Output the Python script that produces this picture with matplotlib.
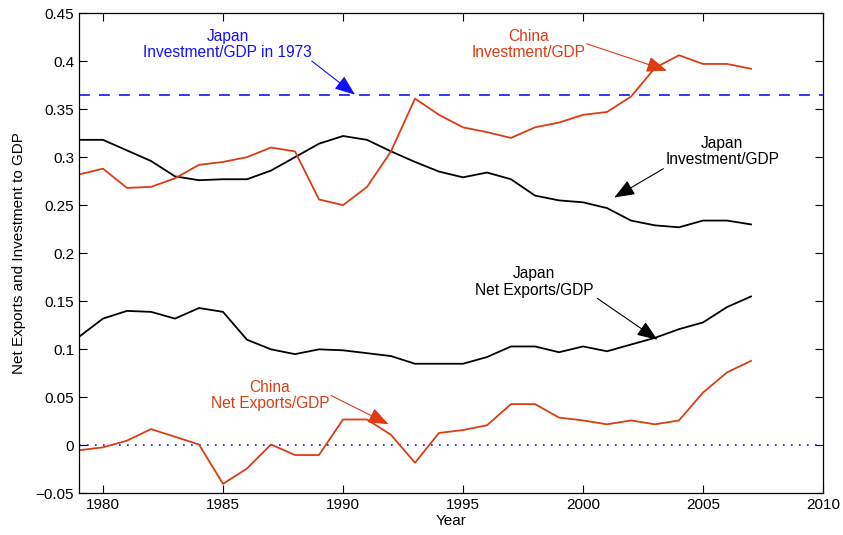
import matplotlib
matplotlib.use('Agg')
import matplotlib.pyplot as plt
import numpy as np

plt.rcParams['font.family'] = ['Liberation Sans', 'DejaVu Sans']

years = np.arange(1979, 2008)

# investment / GDP
japan_inv = [0.318, 0.318, 0.307, 0.296, 0.280, 0.276, 0.277, 0.277, 0.286, 0.300,
             0.314, 0.322, 0.318, 0.306, 0.295, 0.285, 0.279, 0.284, 0.277, 0.260,
             0.255, 0.253, 0.247, 0.234, 0.229, 0.227, 0.234, 0.234, 0.230]
china_inv = [0.282, 0.288, 0.268, 0.269, 0.278, 0.292, 0.295, 0.300, 0.310, 0.306,
             0.256, 0.250, 0.269, 0.306, 0.361, 0.344, 0.331, 0.326, 0.320, 0.331,
             0.336, 0.344, 0.347, 0.363, 0.393, 0.406, 0.397, 0.397, 0.392]

# net exports / GDP
japan_nx = [0.113, 0.132, 0.140, 0.139, 0.132, 0.143, 0.139, 0.110, 0.100, 0.095,
            0.100, 0.099, 0.096, 0.093, 0.085, 0.085, 0.085, 0.092, 0.103, 0.103,
            0.097, 0.103, 0.098, 0.105, 0.112, 0.121, 0.128, 0.144, 0.155]
china_nx = [-0.005, -0.002, 0.005, 0.017, 0.009, 0.001, -0.040, -0.024, 0.001, -0.010,
            -0.010, 0.027, 0.027, 0.011, -0.018, 0.013, 0.016, 0.021, 0.043, 0.043,
            0.029, 0.026, 0.022, 0.026, 0.022, 0.026, 0.055, 0.076, 0.088]

japan_inv_1973 = 0.365

RED = '#dc3c14'
BLUE = '#1010ff'

fig = plt.figure(figsize=(8.43, 5.35), dpi=100)
ax = fig.add_axes([0.0937, 0.0776, 0.8826, 0.8981])

ax.axhline(japan_inv_1973, color=BLUE, lw=1.2, dashes=(6.5, 5.5))
ax.axhline(0, color=BLUE, lw=1.2, linestyle=(0, (1, 3.8)))

ax.plot(years, japan_inv, color='black', lw=1.3)
ax.plot(years, china_inv, color=RED, lw=1.3)
ax.plot(years, japan_nx, color='black', lw=1.3)
ax.plot(years, china_nx, color=RED, lw=1.3)

ax.set_xlim(1979, 2010)
ax.set_ylim(-0.05, 0.45)
ax.set_xticks(np.arange(1980, 2011, 5))
ax.set_yticks(np.arange(-0.05, 0.451, 0.05))
ax.set_yticklabels(['\u22120.05', '0', '0.05', '0.1', '0.15', '0.2', '0.25',
                    '0.3', '0.35', '0.4', '0.45'])
ax.tick_params(direction='in', length=6, top=True, right=True, labelsize=11,
               width=0.8)
for s in ax.spines.values():
    s.set_linewidth(0.9)

ax.set_xlabel('Year', fontsize=11, labelpad=1)
ax.set_ylabel('Net Exports and Investment to GDP', fontsize=11, labelpad=7)


def note(text, xy, xytext, tx, ty, color):
    ax.annotate('', xy=xy, xytext=xytext,
                arrowprops=dict(arrowstyle='-|>,head_length=0.9,head_width=0.35',
                                color=color, lw=0.8, mutation_scale=14,
                                shrinkA=0, shrinkB=0))
    ax.text(tx, ty, text, color=color, ha='center', va='center',
            fontsize=11.2, linespacing=1.1)


note('Japan\nInvestment/GDP in 1973', (1990.5, 0.365), (1988.7, 0.400),
     1985.2, 0.417, BLUE)
note('China\nInvestment/GDP', (2003.5, 0.390), (2000.15, 0.418),
     1997.75, 0.417, RED)
note('Japan\nInvestment/GDP', (2001.3, 0.258), (2003.35, 0.288),
     2005.8, 0.306, 'black')
note('Japan\nNet Exports/GDP', (2003.1, 0.110), (2000.6, 0.153),
     1997.97, 0.170, 'black')
note('China\nNet Exports/GDP', (1991.9, 0.022), (1989.5, 0.052),
     1986.96, 0.052, RED)

fig.savefig('out.png', dpi=100)
